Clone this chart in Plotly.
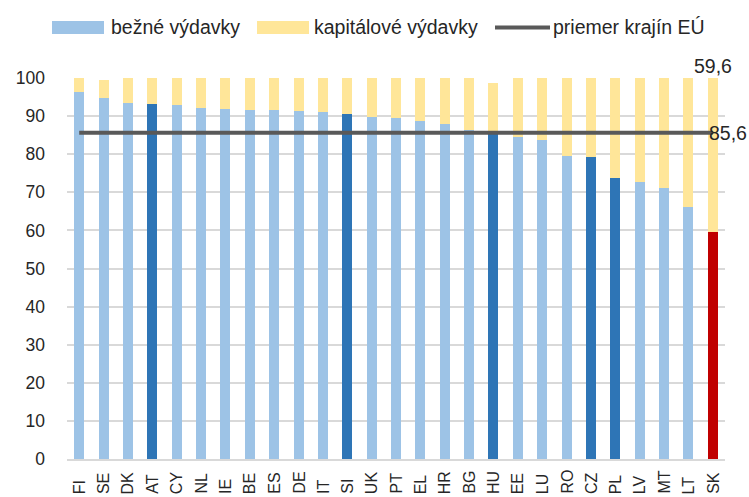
import plotly.graph_objects as go

countries = ["FI", "SE", "DK", "AT", "CY", "NL", "IE", "BE", "ES", "DE", "IT", "SI", "UK", "PT",
             "EL", "HR", "BG", "HU", "EE", "LU", "RO", "CZ", "PL", "LV", "MT", "LT", "SK"]
current_exp = [96.2, 94.8, 93.5, 93.2, 92.9, 92.1, 91.9, 91.5, 91.5, 91.3, 91.1, 90.5, 89.8, 89.6,
               88.7, 88.0, 86.3, 85.4, 84.6, 83.8, 79.4, 79.2, 73.7, 72.7, 71.2, 66.2, 59.6]
total_exp = [100, 99.6, 100, 100, 100, 100, 100, 100, 100, 100, 100, 100, 100, 100,
             100, 100, 100, 98.8, 100, 100, 100, 100, 100, 100, 100, 100, 100]
eu_avg = 85.6
highlighted = ["AT", "SI", "HU", "CZ", "PL"]
focus = "SK"
y_ticks = [0, 10, 20, 30, 40, 50, 60, 70, 80, 90, 100]
legend_names = ["bežné výdavky", "kapitálové výdavky", "priemer krajín EÚ"]

LIGHT = "#9DC3E6"
DARK = "#2E75B6"
RED = "#C00000"
YELLOW = "#FFE699"
LINE = "#595959"
FONT = "Liberation Sans, Arial, sans-serif"
TXT = "#262626"

capital_exp = [round(t - c, 1) for t, c in zip(total_exp, current_exp)]
bar_colors = [RED if c == focus else (DARK if c in highlighted else LIGHT) for c in countries]

fig = go.Figure()
fig.add_trace(go.Bar(x=countries, y=current_exp, name=legend_names[0],
                     marker=dict(color=bar_colors, line=dict(width=0)), showlegend=False))
fig.add_trace(go.Bar(x=countries, y=capital_exp, name=legend_names[1],
                     marker=dict(color=YELLOW, line=dict(width=0)), showlegend=False))
fig.add_trace(go.Scatter(x=countries, y=[eu_avg] * len(countries), mode="lines",
                         name=legend_names[2], line=dict(color=LINE, width=4), showlegend=False))

W, H = 749, 497
# plot area in pixels: x 67..725, y 78..459
L, T, R, B = 67, 78, 24, 38
pw, ph = W - L - R, H - T - B


def px(x):
    return (x - L) / pw


def py(y):
    return (H - B - y) / ph


shapes = []
annotations = []
# manual legend
leg_y = 27.5
shapes.append(dict(type="rect", xref="paper", yref="paper", x0=px(52), x1=px(104),
                   y0=py(34), y1=py(21), fillcolor=LIGHT, line=dict(width=0)))
shapes.append(dict(type="rect", xref="paper", yref="paper", x0=px(257), x1=px(309),
                   y0=py(34), y1=py(21), fillcolor=YELLOW, line=dict(width=0)))
shapes.append(dict(type="line", xref="paper", yref="paper", x0=px(495), x1=px(550),
                   y0=py(leg_y), y1=py(leg_y), line=dict(color=LINE, width=4)))
for name, xl in zip(legend_names, [109, 312, 551]):
    annotations.append(dict(text=name, xref="paper", yref="paper", x=px(xl), y=py(leg_y),
                            xanchor="left", yanchor="middle", showarrow=False,
                            font=dict(family=FONT, size=19.5, color=TXT)))

# rotated category labels (bottom-aligned)
for c in countries:
    annotations.append(dict(text=c, x=c, xref="x", yref="paper", y=py(495), yanchor="bottom",
                            xanchor="center", textangle=-90, showarrow=False, borderpad=0,
                            font=dict(family=FONT, size=16, color=TXT)))

# value labels
fmt = lambda v: f"{v:.1f}".replace(".", ",")
sk_idx = countries.index(focus)
annotations.append(dict(text=fmt(current_exp[sk_idx]), x=focus, y=total_exp[sk_idx], xref="x", yref="y",
                        yanchor="bottom", xanchor="center", showarrow=False, yshift=-1,
                        font=dict(family=FONT, size=19.5, color=TXT)))
annotations.append(dict(text=fmt(eu_avg), x=focus, y=eu_avg, xref="x", yref="y",
                        yanchor="middle", xanchor="left", xshift=-6, showarrow=False,
                        font=dict(family=FONT, size=19.5, color=TXT)))

fig.update_layout(
    width=W, height=H,
    margin=dict(l=L, r=R, t=T, b=B, autoexpand=False),
    barmode="stack", bargap=0.59,
    plot_bgcolor="white", paper_bgcolor="white",
    showlegend=False,
    shapes=shapes, annotations=annotations,
    font=dict(family=FONT, color=TXT),
)
fig.update_xaxes(range=[-0.5, len(countries) - 0.5], autorange=False,
                 showticklabels=False, showgrid=False, showline=True, linecolor="#D9D9D9",
                 linewidth=1.5, ticks="", fixedrange=True)
fig.update_yaxes(range=[0, 100], autorange=False, tickvals=y_ticks, showgrid=True, gridcolor="#D9D9D9",
                 gridwidth=1.5, zeroline=False, showline=False, ticks="", ticklabelstandoff=21,
                 tickfont=dict(family=FONT, size=17.5, color=TXT))

fig.write_html("out.html", config={"responsive": False, "displayModeBar": False},
               post_script="document.body.style.margin='0';document.body.style.overflow='hidden';")
